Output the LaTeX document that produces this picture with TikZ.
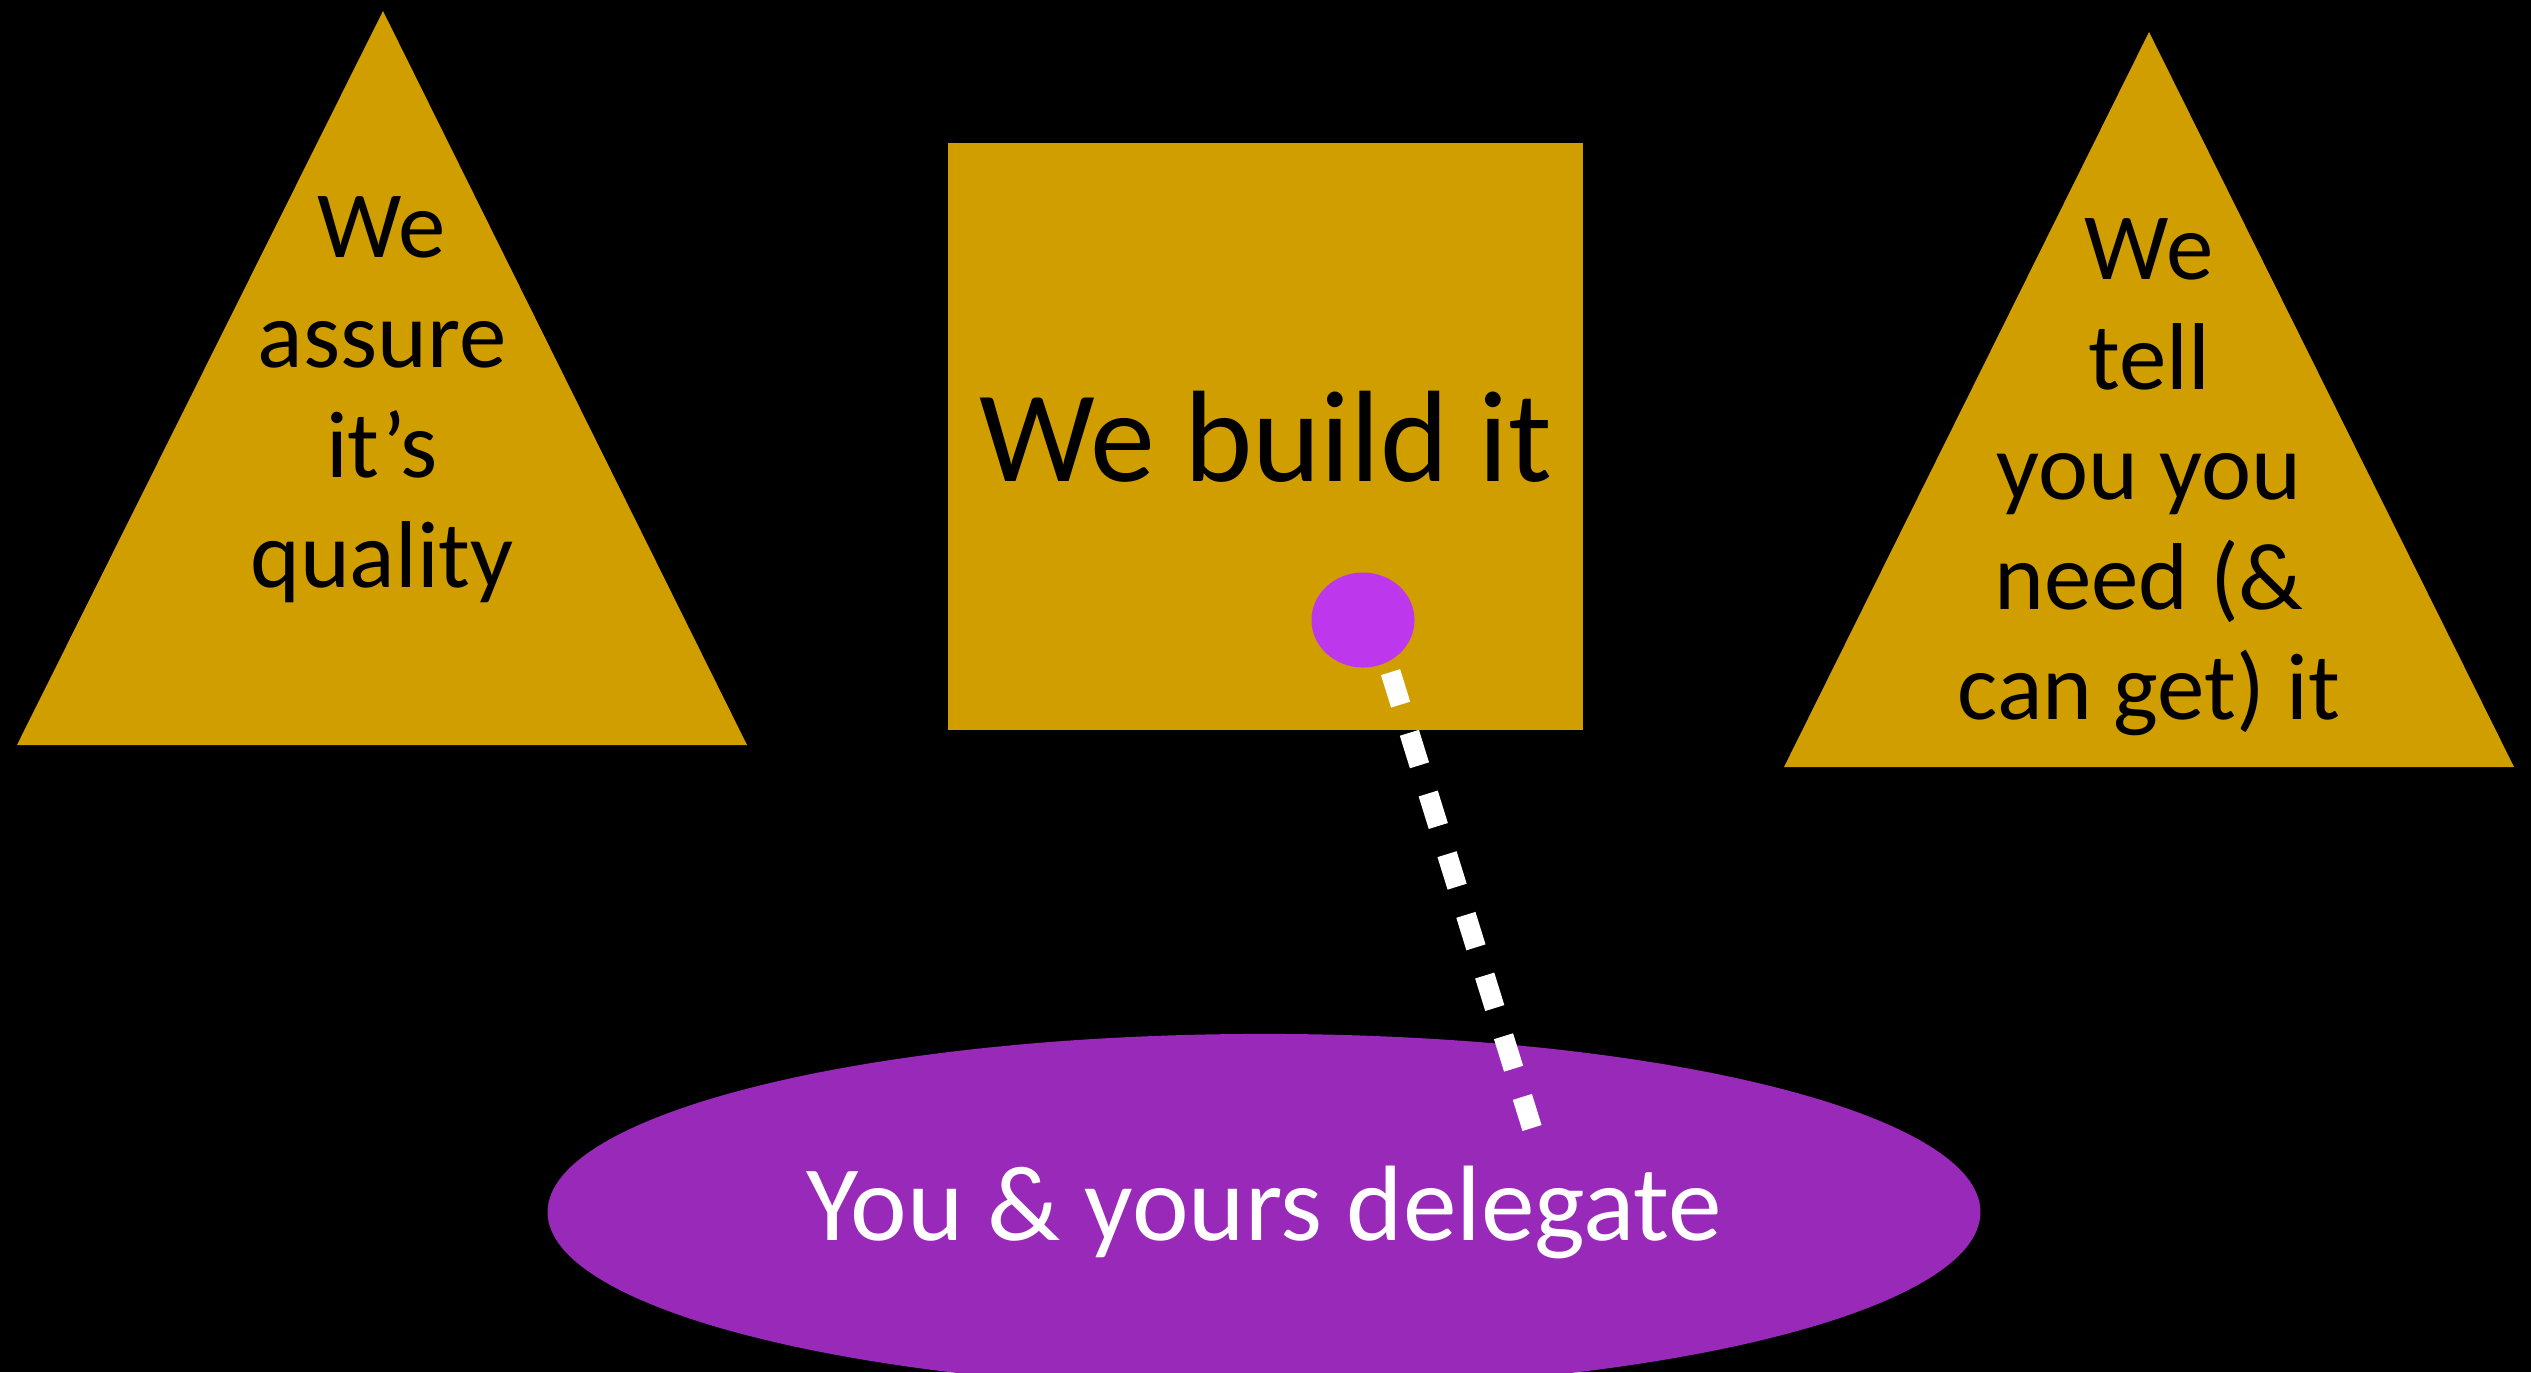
\documentclass[tikz,border=0pt]{standalone}
\usepackage{fontspec}
\setmainfont{Carlito}
\usetikzlibrary{shapes.geometric}
\definecolor{gold}{RGB}{209,158,0}
\definecolor{orchid}{RGB}{189,56,236}
\definecolor{plum}{RGB}{153,41,185}

\begin{document}
\begin{tikzpicture}[x=0.01cm,y=-0.01cm,
  tritext/.style={align=center,text=black,font=\fontsize{27}{31.3}\selectfont},
  delegate/.style={draw=white,line width=0.2cm,dash pattern=on 0.34cm off 0.295cm}]
\fill[black] (0,0) rectangle (2531,1372);
\useasboundingbox (0,0) rectangle (2531,1372);
\fill[gold] (383,11) -- (747,745) -- (17,745) -- cycle;
\fill[gold] (2149,32) -- (2514,767) -- (1784,767) -- cycle;
\node (assure) [tritext] at (382,400) {We\\assure\\it’s\\quality};
\node (tell) [tritext] at (2149,477) {We\\tell\\you you\\need (\&\\can get) it};
\node (build) [fill=gold,minimum width=6.35cm,minimum height=5.87cm,inner sep=0pt,
  font=\fontsize{37}{44}\selectfont] at (1265.5,436.5) {We build it};
\node (dot) [ellipse,fill=orchid,minimum width=1.03cm,minimum height=0.95cm,inner sep=0pt] at (1363,620) {};
\node (you) [ellipse,fill=plum,minimum width=14.32cm,minimum height=3.56cm,inner sep=0pt,
  text=white,font=\fontsize{30.5}{36}\selectfont] at (1264,1212) {You \& yours delegate};
\coordinate (tip) at (1532,1128);
\draw[delegate,shorten <=0.1cm] (dot.300) -- (tip);
\end{tikzpicture}
\end{document}
